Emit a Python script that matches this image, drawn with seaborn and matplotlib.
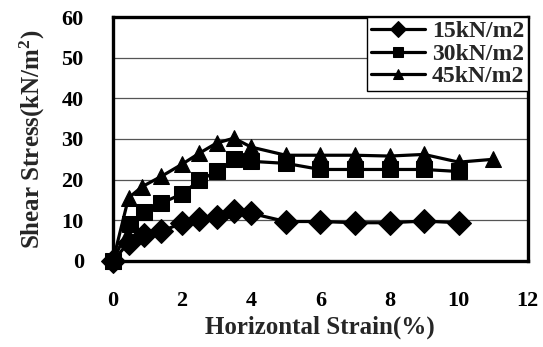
import numpy as np
import pandas as pd
import matplotlib
matplotlib.use("Agg")
import matplotlib.pyplot as plt
import seaborn as sns

# values
strain_15 = [0, 0.45, 0.9, 1.4, 2.0, 2.5, 3.0, 3.5, 4.0, 5, 6, 7, 8, 9, 10]
stress_15 = [0, 4.5, 6.5, 7.3, 9.3, 10.3, 10.8, 12.3, 11.7, 9.7, 9.7, 9.4, 9.4, 9.8, 9.4]

strain_30 = [0, 0.5, 0.9, 1.4, 2.0, 2.5, 3.0, 3.5, 4.0, 5, 6, 7, 8, 9, 10]
stress_30 = [0, 9.0, 12.0, 14.2, 16.5, 19.8, 22.0, 25.0, 24.5, 24.0, 22.5, 22.5, 22.5, 22.5, 22.0]

strain_45 = [0, 0.45, 0.85, 1.4, 2.0, 2.5, 3.0, 3.5, 4.0, 5, 6, 7, 8, 9, 10, 11]
stress_45 = [0, 15.5, 18.3, 20.8, 23.8, 26.5, 29.0, 30.2, 28.0, 26.0, 26.0, 26.0, 25.8, 26.2, 24.3, 25.0]

labels = ["15kN/m2", "30kN/m2", "45kN/m2"]

df = pd.concat([
    pd.DataFrame({"strain": strain_15, "stress": stress_15, "load": labels[0]}),
    pd.DataFrame({"strain": strain_30, "stress": stress_30, "load": labels[1]}),
    pd.DataFrame({"strain": strain_45, "stress": stress_45, "load": labels[2]}),
], ignore_index=True)

sns.set_style("white")
plt.rcParams["font.family"] = ["Liberation Serif", "DejaVu Serif"]
plt.rcParams["font.weight"] = "bold"
plt.rcParams["mathtext.fontset"] = "custom"
plt.rcParams["mathtext.rm"] = "Liberation Serif:bold"
plt.rcParams["mathtext.bf"] = "Liberation Serif:bold"
plt.rcParams["mathtext.default"] = "bf"

fig, ax = plt.subplots(figsize=(5.43, 3.47), dpi=100)
fig.subplots_adjust(left=0.208, right=0.972, bottom=0.248, top=0.951)

sns.lineplot(
    data=df, x="strain", y="stress", hue="load", style="load",
    palette=["black"] * 3, markers=["D", "s", "^"], dashes=False,
    linewidth=2.3, markersize=12, markeredgecolor="black",
    ax=ax, sort=False, clip_on=False, zorder=3,
)

ax.set_xlim(0, 12)
ax.set_ylim(0, 60)
ax.set_xticks(np.arange(0, 13, 2))
ax.set_yticks(np.arange(0, 61, 10))
ax.yaxis.grid(True, color="#555555", linewidth=0.9)
ax.xaxis.grid(False)

for s in ax.spines.values():
    s.set_linewidth(2.4)
    s.set_color("black")

ax.tick_params(axis="x", direction="in", length=5, width=1, pad=22,
               labelsize=16, colors="black")
ax.tick_params(axis="y", direction="in", length=0, pad=21,
               labelsize=16, colors="black")

ax.set_xlabel("Horizontal Strain(%)", fontsize=18, fontweight="bold")
ax.set_ylabel("Shear Stress(kN/m$^{2}$)", fontsize=18, fontweight="bold")
ax.xaxis.set_label_coords(0.5, -0.225)
ax.yaxis.set_label_coords(-0.16, 0.5)

leg = ax.legend(loc="upper right", bbox_to_anchor=(1, 1), borderaxespad=0,
                fancybox=False, edgecolor="black", framealpha=1,
                prop={"size": 17, "weight": "bold"}, handlelength=2.3,
                labelspacing=0.05, borderpad=0.15, handletextpad=0.3,
                markerscale=0.65)
leg.get_frame().set_linewidth(1)

plt.savefig("out.png", dpi=100)
